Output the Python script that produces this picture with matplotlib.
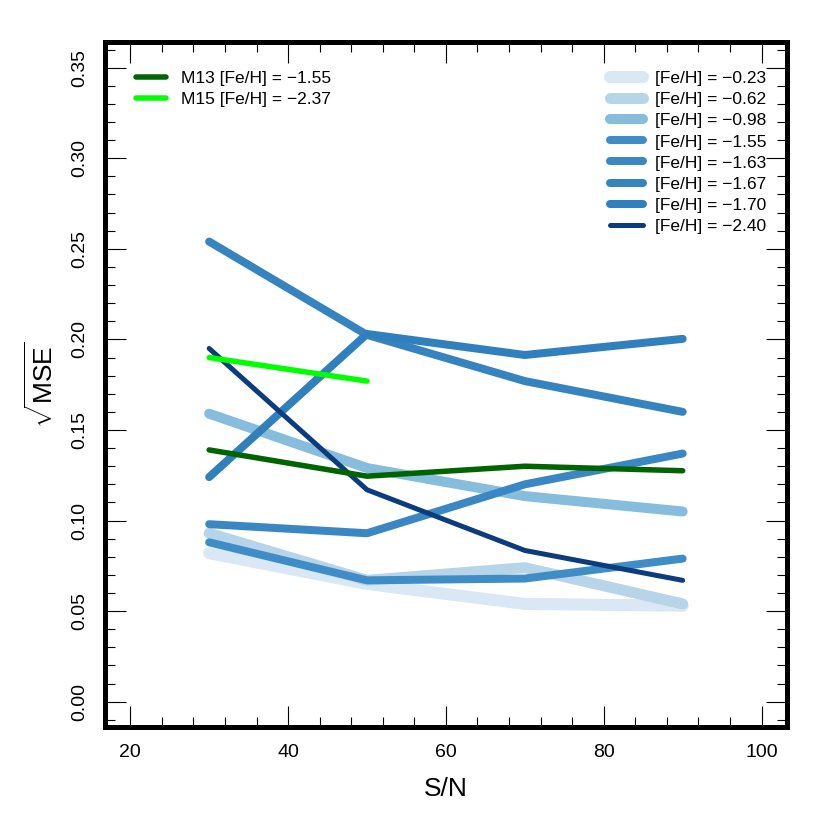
import numpy as np
import matplotlib
matplotlib.use("Agg")
import matplotlib.pyplot as plt
from matplotlib.ticker import MultipleLocator

plt.rcParams['font.family'] = ['Liberation Sans', 'DejaVu Sans']
plt.rcParams['mathtext.fontset'] = 'custom'
plt.rcParams['mathtext.rm'] = 'Liberation Sans'

# signal to noise values
sn = [30, 50, 70, 90]

# sqrt(MSE) per [Fe/H] group
feh_labels = ['[Fe/H] = \u22120.23', '[Fe/H] = \u22120.62', '[Fe/H] = \u22120.98',
              '[Fe/H] = \u22121.55', '[Fe/H] = \u22121.63', '[Fe/H] = \u22121.67',
              '[Fe/H] = \u22121.70', '[Fe/H] = \u22122.40']
mse_023 = [0.082, 0.065, 0.054, 0.053]
mse_062 = [0.093, 0.067, 0.074, 0.054]
mse_098 = [0.159, 0.129, 0.1135, 0.105]
mse_155 = [0.088, 0.067, 0.068, 0.079]
mse_163 = [0.098, 0.093, 0.120, 0.137]
mse_167 = [0.254, 0.2025, 0.177, 0.160]
mse_170 = [0.124, 0.203, 0.1914, 0.2003]
mse_240 = [0.195, 0.117, 0.0835, 0.067]

# clusters
m13_sn = [30, 50, 70, 90]
m13 = [0.139, 0.1245, 0.130, 0.1275]
m15_sn = [30, 50]
m15 = [0.190, 0.177]

series = [mse_023, mse_062, mse_098, mse_155, mse_163, mse_167, mse_170, mse_240]
colors = ['#DAE7F4', '#B8D4E9', '#86BDDD', '#3F8DC7', '#3A87C3', '#3584C0', '#3080BD', '#0B3C7D']
widths = [12, 11, 10, 8, 8, 8, 8, 5]   # pixels

fig = plt.figure(figsize=(8.3, 8.3), dpi=100)
ax = fig.add_axes([0.1265, 0.124, 0.8215, 0.825])

px = 0.72
handles = []
for y, c, w, lab in zip(series, colors, widths, feh_labels):
    h, = ax.plot(sn, y, color=c, lw=w * px, solid_capstyle='round',
                 solid_joinstyle='round', label=lab)
    handles.append(h)

h13, = ax.plot(m13_sn, m13, color='#006400', lw=5.5 * px, solid_capstyle='round',
               label='M13 [Fe/H] = \u22121.55')
h15, = ax.plot(m15_sn, m15, color='#00FF00', lw=5.5 * px, solid_capstyle='round',
               label='M15 [Fe/H] = \u22122.37')

ax.set_xlim(16.8, 103.2)
ax.set_ylim(-0.014, 0.364)
ax.xaxis.set_major_locator(MultipleLocator(20))
ax.xaxis.set_minor_locator(MultipleLocator(4))
ax.yaxis.set_major_locator(MultipleLocator(0.05))
ax.yaxis.set_minor_locator(MultipleLocator(0.01))
ax.yaxis.set_major_formatter(plt.FuncFormatter(lambda v, p: '%.2f' % v))

ax.tick_params(which='both', direction='in', top=True, right=True, width=0.8)
ax.tick_params(which='major', length=15, labelsize=14, pad=12)
ax.tick_params(which='minor', length=7)
for lab in ax.get_yticklabels():
    lab.set_rotation(90)
    lab.set_va('center')
for s in ax.spines.values():
    s.set_linewidth(3.6)

ax.set_xlabel('S/N', fontsize=19, labelpad=12)
ax.set_ylabel(r'$\sqrt{\mathrm{MSE}}$', fontsize=19, labelpad=10)

leg1 = ax.legend(handles=[h13, h15], loc='upper left', bbox_to_anchor=(0.035, 0.968),
                 frameon=False, fontsize=12.5, handlelength=1.75, handletextpad=0.85,
                 labelspacing=0.34, borderaxespad=0)
ax.add_artist(leg1)
ax.legend(handles=handles, loc='upper right', bbox_to_anchor=(0.98, 0.968),
          frameon=False, fontsize=12.5, handlelength=1.9, handletextpad=0.65,
          labelspacing=0.34, borderaxespad=0)

fig.savefig('out.png', dpi=100)
